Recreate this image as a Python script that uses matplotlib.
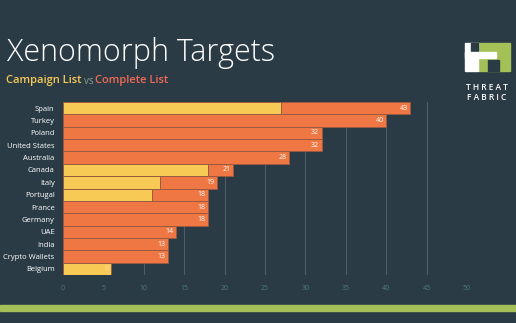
import matplotlib.pyplot as plt
from matplotlib.patches import Rectangle

countries = ['Spain', 'Turkey', 'Poland', 'United States', 'Australia', 'Canada', 'Italy',
             'Portugal', 'France', 'Germany', 'UAE', 'India', 'Crypto Wallets', 'Belgium']
complete = [43, 40, 32, 32, 28, 21, 19, 18, 18, 18, 14, 13, 13, 6]
campaign = [27, 0, 0, 0, 0, 18, 12, 11, 0, 0, 0, 0, 0, 6]
xticks = [0, 5, 10, 15, 20, 25, 30, 35, 40, 45, 50]

bg = '#2a3b46'
orange = '#ee7744'
yellow = '#f7c955'
green = '#a3c156'

fig = plt.figure(figsize=(5.16, 3.23), dpi=100, facecolor=bg)
W, H = 516, 323

ax = fig.add_axes([63 / W, 1 - 275 / H, 404 / W, 173 / H], facecolor=bg)
y = list(range(len(countries)))
ax.barh(y, complete, height=1.0, color=orange, edgecolor='#9a5a40', linewidth=0.7, zorder=2)
ax.barh(y, campaign, height=1.0, color=yellow, edgecolor='#9a5a40', linewidth=0.7, zorder=3)
for yi, v, c in zip(y, complete, campaign):
    col = '#f7e3b0' if c >= v else 'white'
    ax.text(v - 0.3, yi, str(v), ha='right', va='center', fontsize=5, color=col,
            family='Open Sans', zorder=4)

ax.set_xlim(0, 50)
ax.set_ylim(len(countries) - 0.5, -0.5)
ax.set_xticks(xticks)
ax.set_xticklabels([str(t) for t in xticks], fontsize=5, color='#4f7a78', family='Open Sans')
ax.set_yticks(y)
ax.set_yticklabels(countries, fontsize=5.5, color='white', family='Open Sans')
ax.tick_params(length=0, axis='both')
ax.tick_params(axis='x', pad=7)
ax.tick_params(axis='y', pad=6)
for t in xticks[1:]:
    ax.axvline(t, color='#4d5e68', lw=0.8, zorder=1)
for s in ax.spines.values():
    s.set_visible(False)

# title and subtitle
fig.text(7 / W, 1 - 53 / H, 'Xenomorph Targets', fontsize=22, color='white',
         family='Open Sans', weight='light', va='center')
sub_y = 1 - 81 / H
t1 = fig.text(6 / W, sub_y, 'Campaign List', fontsize=8, color=yellow, family='Open Sans',
              weight='semibold', va='center')
fig.canvas.draw()
r = fig.canvas.get_renderer()
x1 = t1.get_window_extent(r).x1 / W
t2 = fig.text(x1 + 2 / W, sub_y, 'vs', fontsize=7, color='#8aa08a', family='Open Sans', va='center')
x2 = t2.get_window_extent(r).x1 / W
fig.text(x2 + 2 / W, sub_y, 'Complete List', fontsize=8, color='#f06a55', family='Open Sans',
         weight='semibold', va='center')

# logo
def box(x0, y0, x1_, y1_, c):
    fig.patches.append(Rectangle((x0 / W, 1 - y1_ / H), (x1_ - x0) / W, (y1_ - y0) / H,
                                 transform=fig.transFigure, color=c, zorder=5))

box(478, 43, 510, 71, green)
box(488, 60, 499, 71, bg)
box(465, 43, 478, 71, 'white')
box(471, 43, 478, 51, bg)
box(465, 52, 496, 58, 'white')
fig.text(487 / W, 1 - 87 / H, 'T H R E A T', fontsize=6, color='white', ha='center', va='center',
         family='Open Sans', weight='semibold')
fig.text(487 / W, 1 - 97 / H, 'F A B R I C', fontsize=6, color='white', ha='center', va='center',
         family='Open Sans', weight='semibold')

# green footer stripe
box(0, 305, W, 311, green)

fig.savefig('out.png', dpi=100, facecolor=bg)
